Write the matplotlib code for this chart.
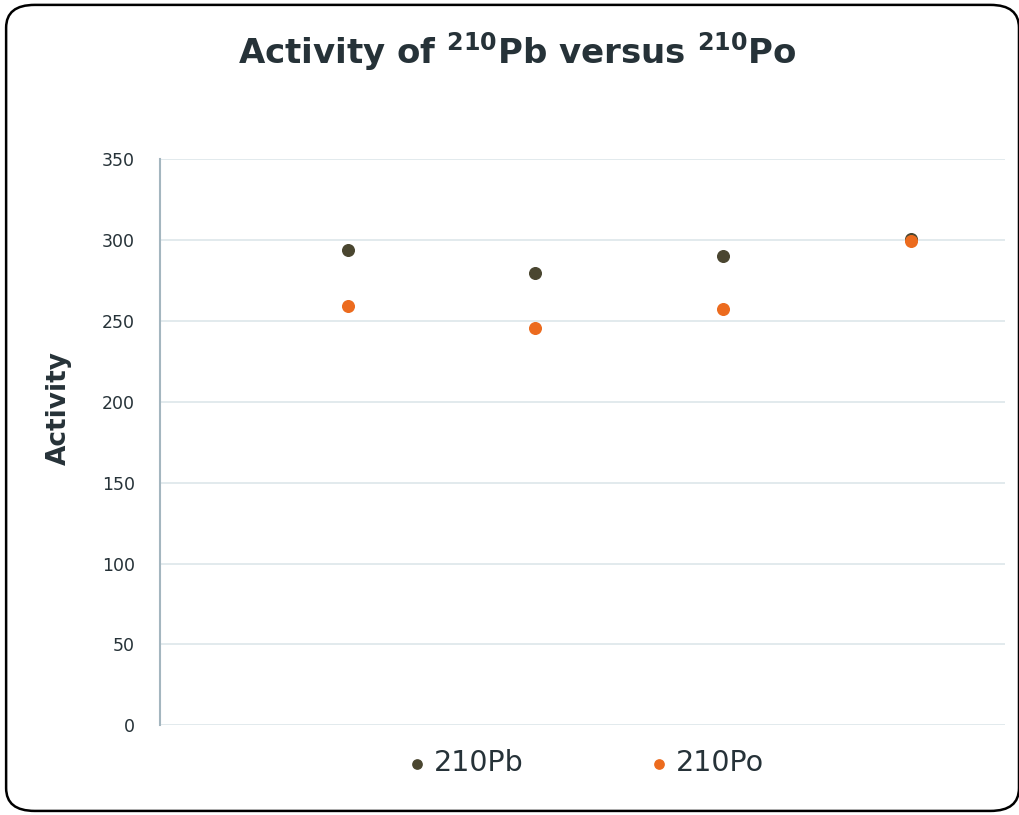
import matplotlib.pyplot as plt
from matplotlib.patches import FancyBboxPatch

samples = [1, 2, 3, 4]
pb210 = [294, 279.5, 290, 300.5]
po210 = [259, 245.5, 257, 299]
yticks = [0, 50, 100, 150, 200, 250, 300, 350]

txt = '#263238'

fig = plt.figure(figsize=(10.2, 8.15), dpi=100)
ax = fig.add_axes([0.157, 0.110, 0.828, 0.695])

ax.scatter(samples, pb210, s=70, color='#4a4630', label='210Pb', zorder=3)
ax.scatter(samples, po210, s=70, color='#ec6b1e', label='210Po', zorder=3)

ax.set_xlim(0, 4.5)
ax.set_ylim(0, 350)
ax.set_yticks(yticks)
ax.set_xticks([])
ax.yaxis.grid(True, color='#dde6ea', linewidth=1.2)
ax.set_axisbelow(True)
for s in ['top', 'right', 'bottom']:
    ax.spines[s].set_visible(False)
ax.spines['left'].set_color('#a4b6bf')
ax.spines['left'].set_linewidth(1.5)
ax.tick_params(axis='y', length=0, pad=18, labelsize=12.5, labelcolor=txt)

ax.set_ylabel('Activity', fontsize=19, fontweight='bold', color=txt)
ax.yaxis.set_label_coords(-0.105, 0.56)
fig.text(0.507, 0.937, r'Activity of $^{\mathbf{210}}$Pb versus $^{\mathbf{210}}$Po',
         ha='center', va='center', fontsize=24.5, fontweight='bold', color=txt)

ax.legend(loc='center', bbox_to_anchor=(0.503, -0.067), ncol=2, frameon=False,
          fontsize=20.5, labelcolor=txt, markerscale=0.8, handlelength=0.8,
          handletextpad=0.2, columnspacing=4.35)

fig.patches.append(FancyBboxPatch((0.006, 0.005), 0.993, 0.989,
                                  boxstyle='round,pad=0,rounding_size=0.028',
                                  transform=fig.transFigure, fill=False,
                                  edgecolor='black', linewidth=1.8))

fig.savefig('out.png', dpi=100)
